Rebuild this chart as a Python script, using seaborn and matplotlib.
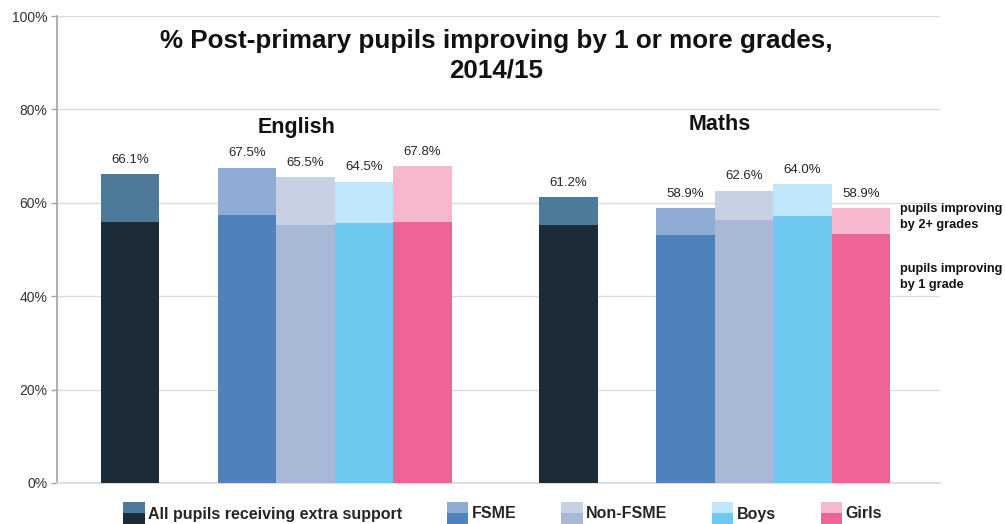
import matplotlib
matplotlib.use("Agg")
import matplotlib.pyplot as plt
from matplotlib.patches import Rectangle
from matplotlib.legend_handler import HandlerBase
import seaborn as sns
import pandas as pd

# ---- data -------------------------------------------------------------
subjects = ["English", "Maths"]
groups = ["All pupils receiving extra support", "FSME", "Non-FSME", "Boys", "Girls"]
# share of pupils improving by 1 or more grades (bar totals, labelled)
total_pct = {
    "English": [66.1, 67.5, 65.5, 64.5, 67.8],
    "Maths":   [61.2, 58.9, 62.6, 64.0, 58.9],
}
# share improving by exactly 1 grade (lower, darker segment)
one_grade_pct = {
    "English": [55.8, 57.3, 55.2, 55.6, 55.8],
    "Maths":   [55.2, 53.0, 56.4, 57.1, 53.4],
}
y_ticks = [0, 20, 40, 60, 80, 100]

# ---- styling ----------------------------------------------------------
light = ["#4d7a9a", "#8fadd4", "#c8d0e4", "#bfe6fa", "#f6b8cf"]
dark = ["#1c2b38", "#4f81bd", "#a9b8d6", "#6ec8f0", "#ef6496"]

sns.set_theme(style="white")
plt.rcParams["font.family"] = ["Liberation Sans", "DejaVu Sans"]

# bar positions in bar-width units: the "all pupils" bar stands alone,
# followed by a gap and the four sub-groups side by side
rows = []
for s_idx, subj in enumerate(subjects):
    for g_idx, grp in enumerate(groups):
        pos = s_idx * 7.5 + (0 if g_idx == 0 else g_idx + 1)
        rows.append(dict(subject=subj, group=grp, pos=pos,
                         total=total_pct[subj][g_idx],
                         one=one_grade_pct[subj][g_idx]))
df = pd.DataFrame(rows)

W, H = 1005, 524
fig = plt.figure(figsize=(W / 100, H / 100), dpi=100)
ax_l, ax_r, ax_t, ax_b = 57, 940, 16, 483
ax = fig.add_axes([ax_l / W, 1 - ax_b / H, (ax_r - ax_l) / W, (ax_b - ax_t) / H])

sns.barplot(data=df, x="pos", y="total", hue="group", palette=dict(zip(groups, light)),
            native_scale=True, dodge=False, width=1.0, legend=False, ax=ax,
            saturation=1, linewidth=0, zorder=2)
sns.barplot(data=df, x="pos", y="one", hue="group", palette=dict(zip(groups, dark)),
            native_scale=True, dodge=False, width=1.0, legend=False, ax=ax,
            saturation=1, linewidth=0, zorder=3)

# value labels above each bar
for _, r in df.iterrows():
    ax.annotate(f"{r.total:.1f}%", (r.pos, r.total), xytext=(0, 6),
                textcoords="offset points", ha="center", va="bottom",
                fontsize=9.5, color="#262626", zorder=5)

ax.set_xlim(-1.25, 13.85)
ax.set_ylim(0, 100)
ax.set_yticks(y_ticks)
ax.set_yticklabels([f"{t}%" for t in y_ticks], fontsize=10, color="#333333")
ax.set_xticks([])
ax.set_xlabel("")
ax.set_ylabel("")
ax.yaxis.grid(True, color="#dcdcdc", linewidth=1.0, zorder=0)
ax.set_axisbelow(True)
ax.tick_params(axis="y", left=True, length=4, width=1, color="#a6a6a6", pad=3)
for side in ["top", "right"]:
    ax.spines[side].set_visible(False)
ax.spines["left"].set_color("#a6a6a6")
ax.spines["bottom"].set_color("#d9d9d9")

# titles and subject headers
fig.text(496 / W, 1 - 56 / H,
         "% Post-primary pupils improving by 1 or more grades,\n2014/15",
         ha="center", va="center", fontsize=18.7, fontweight="bold",
         linespacing=1.3, color="#111111")
fig.text(297 / W, 1 - 128 / H, "English", ha="center", va="center",
         fontsize=15.5, fontweight="bold", color="#111111")
fig.text(720 / W, 1 - 124 / H, "Maths", ha="center", va="center",
         fontsize=15.5, fontweight="bold", color="#111111")

# segment annotations on the right
fig.text(900 / W, 1 - 217 / H, "pupils improving\nby 2+ grades", ha="left",
         va="center", fontsize=9.2, fontweight="bold", linespacing=1.35, color="#111111")
fig.text(900 / W, 1 - 277 / H, "pupils improving\nby 1 grade", ha="left",
         va="center", fontsize=9.2, fontweight="bold", linespacing=1.35, color="#111111")


# legend keys: a square split into the light (top) and dark (bottom) shade
class SplitSquareHandler(HandlerBase):
    def create_artists(self, legend, orig_handle, xdescent, ydescent,
                       width, height, fontsize, trans):
        top_c, bot_c = orig_handle
        size = width
        x0 = -xdescent
        y0 = -ydescent + (height - size) / 2
        bot = Rectangle((x0, y0), size, size / 2, facecolor=bot_c,
                        edgecolor="none", transform=trans)
        top = Rectangle((x0, y0 + size / 2), size, size / 2, facecolor=top_c,
                        edgecolor="none", transform=trans)
        return [bot, top]


handles = [(lc, dc) for lc, dc in zip(light, dark)]
fig.legend(handles, groups, handler_map={tuple: SplitSquareHandler()},
           loc="center", bbox_to_anchor=(0.5, 1 - 514 / H), ncol=5,
           frameon=False, prop={"weight": "bold", "size": 11.5},
           handlelength=1.35, handletextpad=0.2, columnspacing=2.8,
           borderaxespad=0)

fig.savefig("out.png", dpi=100)
